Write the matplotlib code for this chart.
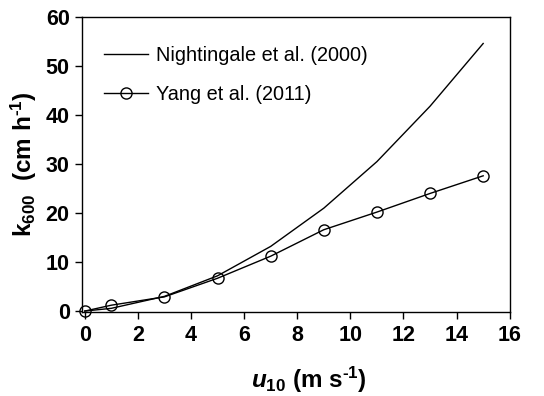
import matplotlib
matplotlib.use("Agg")
import matplotlib.pyplot as plt

plt.rcParams["font.family"] = ["Liberation Sans", "DejaVu Sans"]
plt.rcParams["mathtext.fontset"] = "custom"
plt.rcParams["mathtext.rm"] = "Liberation Sans:bold"
plt.rcParams["mathtext.bf"] = "Liberation Sans:bold"
plt.rcParams["mathtext.it"] = "Liberation Sans:bold:italic"

u10 = [0, 1, 3, 5, 7, 9, 11, 13, 15]
k_nightingale = [0.0, 0.56, 3.0, 7.2, 13.2, 21.0, 30.5, 41.8, 54.6]
k_yang = [0.0, 1.2, 2.9, 6.7, 11.2, 16.6, 20.2, 24.0, 27.6]

fig = plt.figure(figsize=(5.44, 3.96), dpi=100)
ax = fig.add_axes([0.151, 0.212, 0.786, 0.745])

ax.plot(u10, k_nightingale, color="black", linewidth=1.0, label="Nightingale et al. (2000)")
ax.plot(u10, k_yang, color="black", linewidth=1.0, marker="o", markersize=8,
        markerfacecolor="none", markeredgewidth=1.0, clip_on=False,
        label="Yang et al. (2011)")

ax.set_xlim(-0.1, 16)
ax.set_ylim(-0.2, 60)
ax.set_xticks(range(0, 17, 2))
ax.set_yticks(range(0, 61, 10))
ax.tick_params(direction="out", length=5, width=1.0, labelsize=15.5, pad=4)
for lab in ax.get_xticklabels() + ax.get_yticklabels():
    lab.set_fontweight("bold")
for s in ax.spines.values():
    s.set_linewidth(1.0)

ax.set_xlabel(r"$u_{\mathit{10}}$ (m s$^{\mathrm{\text{-}1}}$)", fontsize=17.5, fontweight="bold")
ax.xaxis.set_label_coords(0.53, -0.18)
ax.set_ylabel(r"k$_{\mathrm{600}}$  (cm h$^{\mathrm{\text{-}1}}$)", fontsize=17.5, fontweight="bold", labelpad=5)

ax.legend(loc="upper left", frameon=False, fontsize=14.3, handlelength=2.2,
          handletextpad=0.4, labelspacing=1.0, borderaxespad=0.6, bbox_to_anchor=(0.005, 0.97))

fig.savefig("out.png", dpi=100)
